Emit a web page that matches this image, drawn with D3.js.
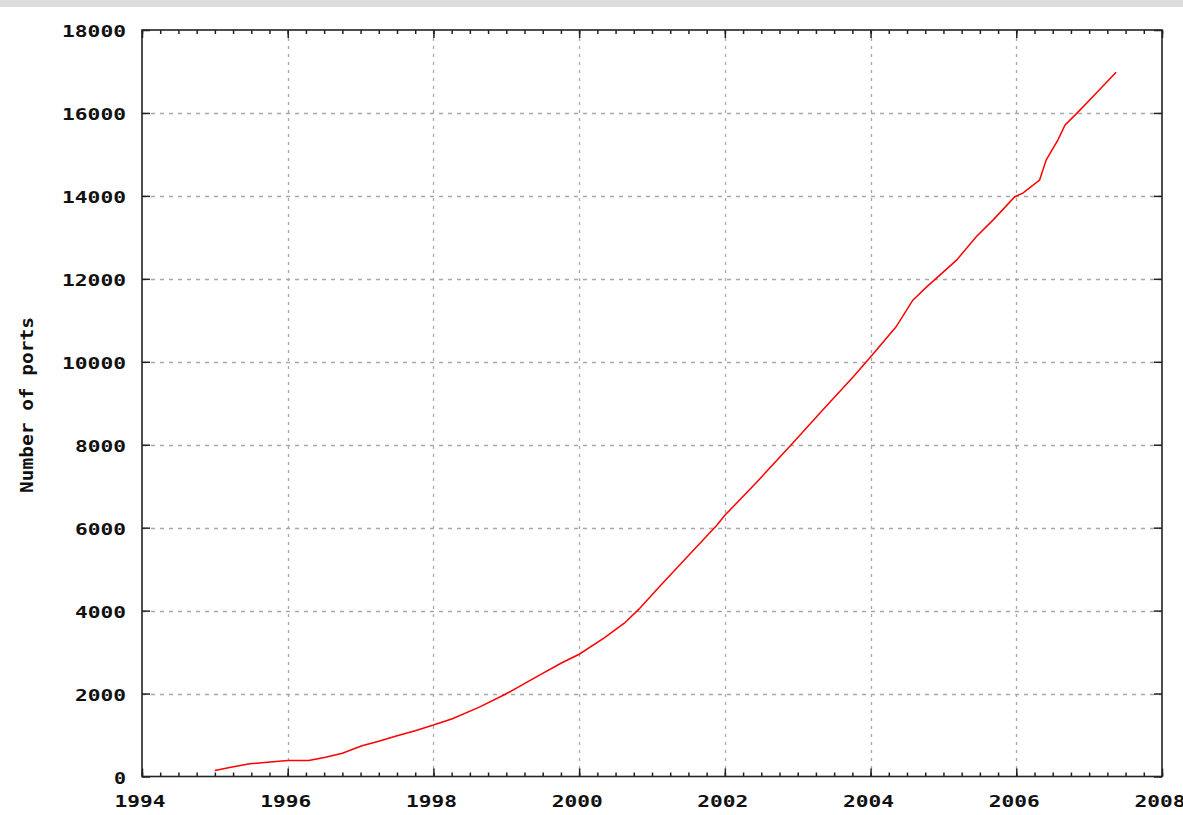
<!DOCTYPE html>
<html><head><meta charset="utf-8">
<script src="https://cdn.jsdelivr.net/npm/d3@7"></script>
<style>
html,body{margin:0;padding:0;background:#fff;}
svg{display:block;}
</style></head>
<body>
<script>
const years = [1995.00,1995.22,1995.48,1995.72,1996.00,1996.29,1996.52,1996.75,1997.02,1997.25,1997.49,1997.75,1998.00,1998.26,1998.63,1999.00,1999.45,1999.75,2000.00,2000.34,2000.62,2000.82,2001.12,2001.44,2001.89,2002.00,2002.44,2002.93,2003.34,2003.76,2004.02,2004.35,2004.58,2004.77,2004.92,2005.18,2005.45,2005.68,2005.98,2006.09,2006.32,2006.41,2006.57,2006.67,2006.83,2007.05,2007.37];
const ports = [145,225,306,345,386,386,466,562,740,852,975,1105,1240,1392,1673,1995,2437,2731,2948,3335,3697,4035,4614,5212,6057,6298,7102,8035,8832,9635,10159,10843,11486,11807,12040,12450,13013,13416,13980,14068,14382,14864,15347,15709,15990,16392,16981];
const xTickYears = [1994,1996,1998,2000,2002,2004,2006,2008];
const yTickValues = [0,2000,4000,6000,8000,10000,12000,14000,16000,18000];
const yTitle = "Number of ports";

(function(){
const W = 1183, H = 815;
const pL = 142, pR = 1162, pT = 30, pB = 776.5;
const svg = d3.select("body").append("svg").attr("width", W).attr("height", H);

svg.append("rect").attr("x",0).attr("y",0).attr("width",W).attr("height",7).attr("fill","#dcdcdc");

const x = d3.scaleLinear().domain([1994, 2008]).range([pL, pR]);
const y = d3.scaleLinear().domain([0, 18000]).range([pB, pT]);

const font = "'DejaVu Sans Mono', 'Liberation Mono', monospace";

// grid
const g = svg.append("g");
g.selectAll(".vg").data(xTickYears.filter(d => d > 1994 && d < 2008)).enter().append("line")
  .attr("x1", d => Math.round(x(d)) + 0.5).attr("x2", d => Math.round(x(d)) + 0.5)
  .attr("y1", pT).attr("y2", pB)
  .attr("stroke", "#a8a8a8").attr("stroke-width", 1.3).attr("stroke-dasharray", "3,5");
g.selectAll(".hg").data(yTickValues.filter(d => d > 0 && d < 18000)).enter().append("line")
  .attr("y1", d => Math.round(y(d)) + 0.5).attr("y2", d => Math.round(y(d)) + 0.5)
  .attr("x1", pL).attr("x2", pR)
  .attr("stroke", "#a8a8a8").attr("stroke-width", 1.3).attr("stroke-dasharray", "4,5");

// ticks
const minorTicks = d3.range(1994, 2008.001, 0.25);
const axB = d3.axisBottom(x).tickValues(minorTicks).tickSize(-4).tickFormat("");
const axT = d3.axisTop(x).tickValues(minorTicks).tickSize(-4).tickFormat("");
const axBM = d3.axisBottom(x).tickValues(xTickYears).tickSize(-8).tickFormat("");
const axTM = d3.axisTop(x).tickValues(xTickYears).tickSize(-8).tickFormat("");
const axL = d3.axisLeft(y).tickValues(yTickValues).tickSize(-8).tickFormat("");
const axR = d3.axisRight(y).tickValues(yTickValues).tickSize(-8).tickFormat("");
[[axB,`translate(0,${pB})`],[axBM,`translate(0,${pB})`],[axT,`translate(0,${pT})`],[axTM,`translate(0,${pT})`],[axL,`translate(${pL},0)`],[axR,`translate(${pR},0)`]].forEach(([a,t]) => {
  const gg = svg.append("g").attr("transform", t).call(a);
  gg.select(".domain").remove();
  gg.selectAll("line").attr("stroke", "#222").attr("stroke-width", 1.5);
});

svg.append("rect").attr("x", pL).attr("y", pT).attr("width", pR-pL).attr("height", pB-pT)
  .attr("fill","none").attr("stroke","#222").attr("stroke-width",1.6);

// labels
svg.selectAll(".yl").data(yTickValues).enter().append("text")
  .attr("x", 126).attr("y", d => y(d) + 7)
  .attr("text-anchor","end")
  .attr("font-family", font).attr("font-weight","bold").attr("font-size", 16.5)
  .attr("textLength", d => String(d).length * 13 - 1).attr("lengthAdjust","spacingAndGlyphs")
  .attr("fill","#111")
  .text(d => String(d));
svg.selectAll(".xl").data(xTickYears).enter().append("text")
  .attr("x", d => x(d) - 2).attr("y", 807)
  .attr("text-anchor","middle")
  .attr("font-family", font).attr("font-weight","bold").attr("font-size", 16.5)
  .attr("textLength", d => String(d).length * 13 - 1).attr("lengthAdjust","spacingAndGlyphs")
  .attr("fill","#111")
  .text(d => String(d));

svg.append("text")
  .attr("transform", `translate(33,405) rotate(-90)`)
  .attr("text-anchor","middle")
  .attr("font-family", font).attr("font-weight","bold").attr("font-size", 17)
  .attr("textLength", 176).attr("lengthAdjust","spacingAndGlyphs")
  .attr("fill","#111")
  .text(yTitle);

// line
const data = years.map((yr, i) => ({yr, v: ports[i]}));
svg.append("path").datum(data)
  .attr("d", d3.line().x(d => x(d.yr)).y(d => y(d.v)))
  .attr("fill","none").attr("stroke","#ff0000").attr("stroke-width",1.5);
})();
</script>
</body></html>
